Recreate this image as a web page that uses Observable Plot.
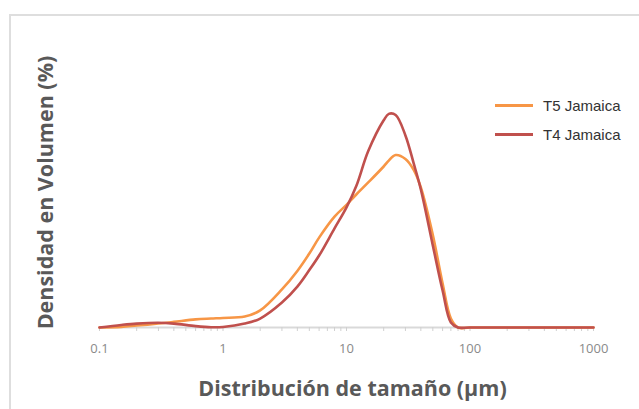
<!DOCTYPE html>
<html><head><meta charset="utf-8">
<script src="https://cdn.jsdelivr.net/npm/d3@7"></script>
<script src="https://cdn.jsdelivr.net/npm/@observablehq/plot@0.6"></script>
<style>
body{margin:0;background:#fff;}
#wrap{position:relative;width:639px;height:409px;overflow:hidden;background:#fff;}
#frame{position:absolute;left:9px;top:14px;right:-5px;bottom:-5px;border-top:2px solid #dedede;border-left:2px solid #dedede;}
#chart{position:absolute;left:0;top:0;}
#legend{position:absolute;left:495px;top:91px;font:15px "Liberation Sans",Arial,sans-serif;color:#333;}
.item{display:flex;align-items:center;height:29px;}
.sw{width:38px;height:3px;margin-right:10px;}
</style></head><body>
<div id="wrap"><div id="frame"></div><div id="chart"></div><div id="legend"></div></div>
<script>
// Particle size (µm)
const sizes = [0.1,0.15,0.2,0.3,0.4,0.6,0.8,1,1.5,2,3,4,5,6,8,10,12,15,20,22,25,30,35,40,50,60,70,80,100,1000];
// Volume density (%)
const t5 = [0,0.02,0.07,0.14,0.2,0.29,0.32,0.34,0.39,0.61,1.36,2.02,2.64,3.21,3.96,4.38,4.75,5.18,5.75,5.96,6.16,6.02,5.63,5.0,3.3,1.57,0.32,0,0,0];
const t4 = [0,0.09,0.14,0.17,0.14,0.05,0.01,0.02,0.14,0.32,0.89,1.46,2.05,2.57,3.54,4.29,5.05,6.3,7.4,7.63,7.59,6.86,5.86,4.93,2.93,1.32,0.18,0,0,0];
const seriesNames = ["T5 Jamaica","T4 Jamaica"];
const seriesColors = ["#F79646","#C0504D"];
const tickValues = [0.1,1,10,100,1000];
const tickLabels = ["0.1","1","10","100","1000"];
const xTitle = "Distribución de tamaño (µm)";
const yTitle = "Densidad en Volumen (%)";

const rows = [];
[t5, t4].forEach((vals, s) => sizes.forEach((x, i) => rows.push({series: seriesNames[s], x, y: vals[i]})));
const minorTicks = d3.scaleLog().domain([0.1, 1000]).ticks();

const chart = Plot.plot({
  width: 639, height: 409,
  marginLeft: 99, marginRight: 46, marginTop: 47, marginBottom: 82,
  style: {background: "transparent", overflow: "visible"},
  x: {type: "log", domain: [0.1, 1000]},
  y: {domain: [0, 10]},
  color: {domain: seriesNames, range: seriesColors},
  marks: [
    Plot.ruleY([0], {stroke: "#d9d9d9", strokeWidth: 2}),
    Plot.axisX({ticks: minorTicks, tickSize: 4, stroke: "#d0d0d0", strokeWidth: 1, tickFormat: () => "", label: null}),
    Plot.axisX({ticks: tickValues, tickSize: 0, tickPadding: 16, tickFormat: (d) => tickLabels[tickValues.indexOf(d)],
      fontSize: 13, fill: "#8a8a8a", fontFamily: "'Open Sans', sans-serif",
      label: xTitle, labelAnchor: "center", labelArrow: "none", labelOffset: 68}),
    Plot.axisY({ticks: [], label: yTitle, labelAnchor: "center", labelArrow: "none", labelOffset: 62}),
    Plot.line(rows, {x: "x", y: "y", z: "series", stroke: "series", strokeWidth: 2.6, curve: "catmull-rom"})
  ]
});
// style axis titles
chart.querySelectorAll("g[aria-label='x-axis label'] text, g[aria-label='y-axis label'] text").forEach(t => {
  t.setAttribute("font-size", "21.5");
  t.setAttribute("font-weight", "bold");
  t.setAttribute("fill", "#595959");
  t.setAttribute("font-family", "'Open Sans', sans-serif");
});
chart.querySelectorAll("g[aria-label='y-axis label'] text").forEach(t => t.setAttribute("dx", "-5"));
chart.querySelectorAll("g[aria-label='x-axis label'] text").forEach(t => t.setAttribute("dx", "6"));
document.getElementById("chart").appendChild(chart);

const legend = document.getElementById("legend");
seriesNames.forEach((n, i) => {
  const d = document.createElement("div"); d.className = "item";
  const sw = document.createElement("span"); sw.className = "sw"; sw.style.background = seriesColors[i];
  const tx = document.createElement("span"); tx.textContent = n;
  d.appendChild(sw); d.appendChild(tx); legend.appendChild(d);
});
</script>
</body></html>
